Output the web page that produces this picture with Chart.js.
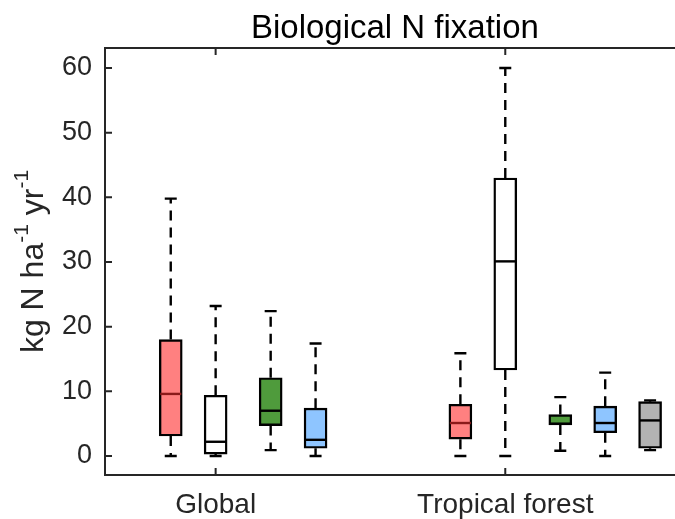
<!DOCTYPE html>
<html lang="en">
<head>
    <meta charset="UTF-8">
    <title>Biological N fixation</title>
    <style>
        body {
            margin: 0;
            background-color: #fff;
            overflow: hidden;
        }
        #chart {
            display: block;
        }
    </style>
</head>
<body>
    <canvas id="chart" width="675" height="519"></canvas>

    <script src="https://cdn.jsdelivr.net/npm/chart.js@4"></script>
    <script>
        // groups on the x axis
        const groups = ['Global', 'Tropical forest'];
        const groupTicks = [1, 2];
        const yTicks = [0, 10, 20, 30, 40, 50, 60];
        const title = 'Biological N fixation';

        // one row per series (red, white, green, blue, gray), one value per group
        const whiskerLow  = [[0, 0], [0, 0], [0.9, 0.8], [0, 0], [null, 0.9]];
        const quart1      = [[3.1, 2.6], [0.3, 13.3], [4.7, 4.8], [1.2, 3.6], [null, 1.2]];
        const medians     = [[9.6, 5.1], [2.2, 30.1], [7.0, 5.0], [2.5, 5.1], [null, 5.5]];
        const quart3      = [[18.0, 8.0], [9.4, 43.0], [12.1, 6.4], [7.4, 7.7], [null, 8.4]];
        const whiskerHigh = [[39.8, 15.9], [23.2, 60.0], [22.4, 9.1], [17.4, 12.9], [null, 8.6]];

        // look of each series
        const offsets = [-0.155, 0, 0.19, 0.345, 0.5];
        const fills = ['#ff8080', '#ffffff', '#4f9b3c', '#8ec5ff', '#b3b3b3'];
        const medianColors = ['#8b1a1a', '#000', '#000', '#000', '#000'];

        const axisColor = '#262626';
        const font = 'Liberation Sans, Arial, Helvetica, sans-serif';

        // build the boxes
        const boxes = [];
        for (let s = 0; s < fills.length; s++) {
            for (let g = 0; g < groups.length; g++) {
                if (medians[s][g] === null) continue;
                boxes.push({
                    x: groupTicks[g] + offsets[s],
                    y: [quart1[s][g], quart3[s][g]],
                    lo: whiskerLow[s][g],
                    hi: whiskerHigh[s][g],
                    med: medians[s][g],
                    fill: fills[s],
                    medColor: medianColors[s]
                });
            }
        }

        const boxPlot = {
            id: 'boxPlot',
            beforeDatasetsDraw(chart) {
                const ctx = chart.ctx;
                const xs = chart.scales.x, ys = chart.scales.y;
                ctx.save();
                ctx.strokeStyle = '#000';
                ctx.lineWidth = 2.4;
                boxes.forEach(b => {
                    const px = xs.getPixelForValue(b.x);
                    const top = ys.getPixelForValue(b.y[1]);
                    const bot = ys.getPixelForValue(b.y[0]);
                    const hi = ys.getPixelForValue(b.hi);
                    const lo = ys.getPixelForValue(b.lo);
                    // dashed whiskers
                    ctx.setLineDash([10, 7]);
                    ctx.beginPath();
                    ctx.moveTo(px, top);
                    ctx.lineTo(px, hi);
                    ctx.moveTo(px, bot);
                    ctx.lineTo(px, lo);
                    ctx.stroke();
                    // caps
                    ctx.setLineDash([]);
                    ctx.beginPath();
                    ctx.moveTo(px - 6, hi);
                    ctx.lineTo(px + 6, hi);
                    ctx.moveTo(px - 6, lo);
                    ctx.lineTo(px + 6, lo);
                    ctx.stroke();
                });
                ctx.restore();
            },
            afterDatasetsDraw(chart) {
                const ctx = chart.ctx;
                const xs = chart.scales.x, ys = chart.scales.y;
                const bars = chart.getDatasetMeta(0).data;
                ctx.save();
                ctx.lineWidth = 2.4;
                boxes.forEach((b, i) => {
                    const px = xs.getPixelForValue(b.x);
                    const w = bars[i].width;
                    const my = ys.getPixelForValue(b.med);
                    ctx.strokeStyle = b.medColor;
                    ctx.beginPath();
                    ctx.moveTo(px - w / 2 + 1, my);
                    ctx.lineTo(px + w / 2 - 1, my);
                    ctx.stroke();
                });

                // axes lines (the right edge lies outside the picture) with inward ticks
                const a = chart.chartArea;
                ctx.strokeStyle = axisColor;
                ctx.lineWidth = 2;
                ctx.beginPath();
                ctx.moveTo(chart.width, a.top);
                ctx.lineTo(a.left, a.top);
                ctx.lineTo(a.left, a.bottom);
                ctx.lineTo(chart.width, a.bottom);
                ctx.stroke();
                ctx.beginPath();
                yTicks.forEach(v => {
                    const py = ys.getPixelForValue(v);
                    ctx.moveTo(a.left, py);
                    ctx.lineTo(a.left + 7, py);
                });
                groupTicks.forEach(v => {
                    const px = xs.getPixelForValue(v);
                    ctx.moveTo(px, a.bottom);
                    ctx.lineTo(px, a.bottom - 7);
                    ctx.moveTo(px, a.top);
                    ctx.lineTo(px, a.top + 7);
                });
                ctx.stroke();
                ctx.restore();
            },
            afterDraw(chart) {
                const ctx = chart.ctx;
                const a = chart.chartArea;
                const xs = chart.scales.x;
                ctx.save();

                // title, centred on the full axes box (which runs past the picture)
                ctx.font = '33px ' + font;
                ctx.fillStyle = '#000';
                ctx.textAlign = 'center';
                ctx.textBaseline = 'alphabetic';
                const mid = (a.left + xs.getPixelForValue(2.62)) / 2;
                ctx.fillText(title, mid, 38);

                // y axis title with superscripts
                const parts = [
                    ['kg N ha', false], ['-1', true], [' yr', false], ['-1', true]
                ];
                const main = '32px ' + font, sup = '21px ' + font;
                let total = 0;
                parts.forEach(p => {
                    ctx.font = p[1] ? sup : main;
                    total += ctx.measureText(p[0]).width;
                });
                ctx.translate(43, (a.top + a.bottom) / 2);
                ctx.rotate(-Math.PI / 2);
                ctx.fillStyle = axisColor;
                ctx.textAlign = 'left';
                let x = -total / 2;
                parts.forEach(p => {
                    ctx.font = p[1] ? sup : main;
                    ctx.fillText(p[0], x, p[1] ? -15 : 0);
                    x += ctx.measureText(p[0]).width;
                });
                ctx.restore();
            }
        };

        const ctx = document.getElementById('chart').getContext('2d');
        new Chart(ctx, {
            type: 'bar',
            data: {
                datasets: [{
                    data: boxes.map(b => ({ x: b.x, y: b.y })),
                    backgroundColor: boxes.map(b => b.fill),
                    borderColor: '#000',
                    borderWidth: 2.4,
                    borderSkipped: false,
                    barThickness: 23
                }]
            },
            options: {
                responsive: false,
                animation: false,
                devicePixelRatio: 1,
                layout: { padding: { left: 0, right: 0, top: 48, bottom: 0 } },
                plugins: {
                    legend: { display: false },
                    tooltip: { enabled: false },
                    title: { display: false }
                },
                scales: {
                    x: {
                        type: 'linear',
                        offset: false,
                        min: 0.618,
                        max: 2.586,
                        grid: { display: false, drawTicks: false },
                        border: { display: false },
                        afterBuildTicks: s => { s.ticks = groupTicks.map(v => ({ value: v })); },
                        afterFit: s => { s.height = 44; },
                        ticks: {
                            callback: v => groups[v - 1],
                            color: axisColor,
                            font: { family: font, size: 28 },
                            padding: 13,
                            maxRotation: 0,
                            autoSkip: false
                        }
                    },
                    y: {
                        min: -2.94,
                        max: 63.1,
                        grid: { display: false, drawTicks: false },
                        border: { display: false },
                        afterBuildTicks: s => { s.ticks = yTicks.map(v => ({ value: v })); },
                        afterFit: s => { s.width = 105; },
                        ticks: {
                            color: axisColor,
                            font: { family: font, size: 27 },
                            padding: 13
                        }
                    }
                }
            },
            plugins: [boxPlot]
        });
    </script>
</body>
</html>
